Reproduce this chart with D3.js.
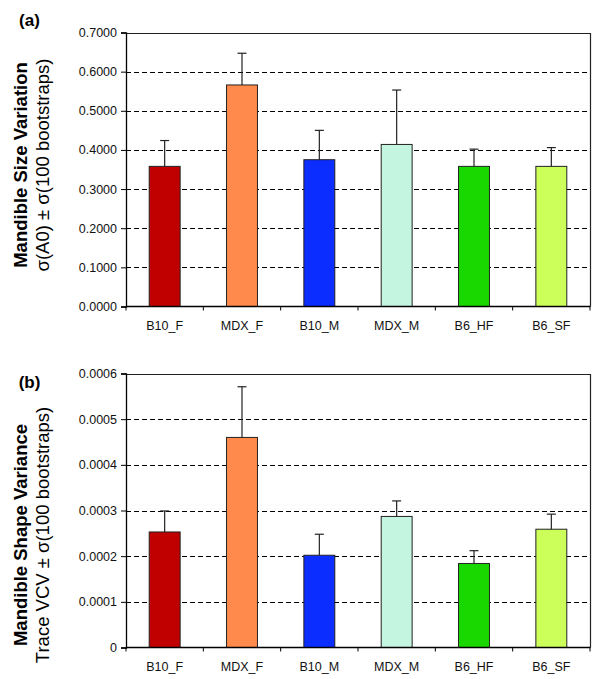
<!DOCTYPE html>
<html>
<head>
<meta charset="utf-8">
<script src="https://cdn.jsdelivr.net/npm/d3@7"></script>
<style>
  html, body { margin: 0; padding: 0; background: #fff; }
  svg { display: block; font-family: "Liberation Sans", Arial, Helvetica, sans-serif; }
</style>
</head>
<body>
<svg id="chart" width="600" height="679"></svg>
<script>
// ---- data ----
const categories = ["B10_F", "MDX_F", "B10_M", "MDX_M", "B6_HF", "B6_SF"];
const barColors = ["#C00000", "#FF8A4B", "#0B2DFF", "#C4F5E0", "#18D800", "#CCFF5A"];

const sizeValues = [0.358, 0.566, 0.375, 0.414, 0.358, 0.358];
const sizeErrors = [0.066, 0.081, 0.075, 0.139, 0.044, 0.048];
const sizeTicks = [0, 0.1, 0.2, 0.3, 0.4, 0.5, 0.6, 0.7];

const shapeValues = [0.000253, 0.000460, 0.000202, 0.000287, 0.000184, 0.000259];
const shapeErrors = [0.000046, 0.000111, 0.000046, 0.000034, 0.000028, 0.000033];
const shapeTicks = [0, 0.0001, 0.0002, 0.0003, 0.0004, 0.0005, 0.0006];

const panels = [
  { label: "(a)", title: "Mandible Size Variation", subtitle: "σ(A0) ± σ(100 bootstraps)",
    values: sizeValues, errors: sizeErrors, ticks: sizeTicks,
    fmt: d => d3.format(".4f")(d), top: 32.5, bottom: 306.5, labelY: 26, titleY: 165 },
  { label: "(b)", title: "Mandible Shape Variance", subtitle: "Trace VCV ± σ(100 bootstraps)",
    values: shapeValues, errors: shapeErrors, ticks: shapeTicks,
    fmt: d => d === 0 ? "0" : d3.format(".4f")(d), top: 373.5, bottom: 647.5, labelY: 388, titleY: 535 }
];

const svg = d3.select("#chart");
const left = 126, right = 590;

panels.forEach(p => {
  const g = svg.append("g");
  const x = d3.scaleBand().domain(categories).range([left, right]).paddingInner(0.6).paddingOuter(0.3);
  const y = d3.scaleLinear().domain([0, p.ticks[p.ticks.length - 1]]).range([p.bottom, p.top]);

  // gridlines
  g.append("g").selectAll("line").data(p.ticks.filter((t, i) => i > 0 && i < p.ticks.length - 1))
    .join("line")
    .attr("x1", left).attr("x2", right)
    .attr("y1", d => Math.round(y(d)) + 0.5).attr("y2", d => Math.round(y(d)) + 0.5)
    .attr("stroke", "#000").attr("stroke-width", 1).attr("stroke-dasharray", "5,3");

  // plot border top & right
  g.append("path")
    .attr("d", `M${left},${Math.round(p.top) + 0.5}H${right + 0.5}V${p.bottom}`)
    .attr("fill", "none").attr("stroke", "#222").attr("stroke-width", 1.2);

  // bars
  g.append("g").selectAll("rect").data(categories).join("rect")
    .attr("x", d => x(d))
    .attr("width", x.bandwidth())
    .attr("y", (d, i) => y(p.values[i]))
    .attr("height", (d, i) => y(0) - y(p.values[i]))
    .attr("fill", (d, i) => barColors[i])
    .attr("stroke", "#222").attr("stroke-width", 1);

  // error bars (upper only)
  const eb = g.append("g").attr("stroke", "#222").attr("stroke-width", 1.2);
  categories.forEach((c, i) => {
    const cx = x(c) + x.bandwidth() / 2;
    const y0 = y(p.values[i]), y1 = y(p.values[i] + p.errors[i]);
    eb.append("line").attr("x1", cx).attr("x2", cx).attr("y1", y0).attr("y2", y1);
    eb.append("line").attr("x1", cx - 4.5).attr("x2", cx + 4.5).attr("y1", y1).attr("y2", y1);
  });

  // y axis
  const ya = g.append("g").attr("transform", `translate(${left},0)`)
    .call(d3.axisLeft(y).tickValues(p.ticks).tickFormat(p.fmt).tickSize(5).tickPadding(4));
  ya.select(".domain").attr("stroke", "#000").attr("stroke-width", 1.3);
  ya.selectAll(".tick line").attr("stroke", "#000");
  ya.selectAll("text").attr("font-size", 12.5).attr("fill", "#111")
    .attr("font-family", "Liberation Sans, Arial, sans-serif");

  // x axis
  const bounds = d3.range(categories.length + 1).map(i => left + i * x.step());
  const xa = g.append("g");
  xa.append("line").attr("x1", left).attr("x2", right + 0.5)
    .attr("y1", p.bottom).attr("y2", p.bottom).attr("stroke", "#000").attr("stroke-width", 1.3);
  xa.selectAll("line.tk").data(bounds).join("line").attr("class", "tk")
    .attr("x1", d => d).attr("x2", d => d)
    .attr("y1", p.bottom).attr("y2", p.bottom + 4).attr("stroke", "#000");
  xa.selectAll("text").data(categories).join("text")
    .attr("x", d => x(d) + x.bandwidth() / 2)
    .attr("y", p.bottom + 23)
    .attr("text-anchor", "middle").attr("font-size", 12.5).attr("fill", "#111")
    .text(d => d);

  // titles
  g.append("text").attr("transform", `translate(26.5,${p.titleY}) rotate(-90)`)
    .attr("text-anchor", "middle").attr("font-size", 18.5).attr("font-weight", "bold")
    .attr("fill", "#000").text(p.title);
  g.append("text").attr("transform", `translate(49,${p.titleY}) rotate(-90)`)
    .attr("text-anchor", "middle").attr("font-size", 18.5)
    .attr("fill", "#000").text(p.subtitle);

  // panel label
  g.append("text").attr("x", 29.5).attr("y", p.labelY)
    .attr("text-anchor", "middle").attr("font-size", 17).attr("font-weight", "bold")
    .attr("fill", "#000").text(p.label);
});
</script>
</body>
</html>
